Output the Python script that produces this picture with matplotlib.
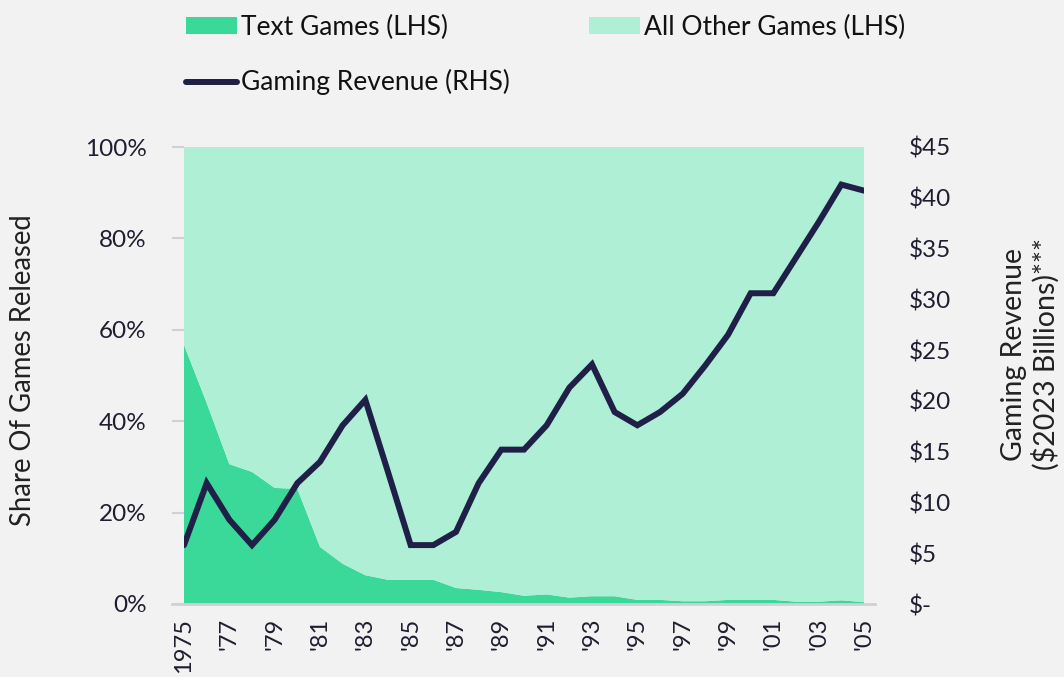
import matplotlib
matplotlib.use("Agg")
import matplotlib.pyplot as plt
from matplotlib.patches import Patch
from matplotlib.lines import Line2D

years = list(range(1975, 2006))
text_share = [56.7, 44.0, 30.6, 28.9, 25.4, 25.2, 12.5, 8.8, 6.3, 5.3, 5.3, 5.3,
              3.5, 3.1, 2.6, 1.8, 2.1, 1.4, 1.7, 1.7, 0.9, 0.9, 0.6, 0.6, 0.9,
              0.9, 0.9, 0.5, 0.5, 0.8, 0.4]
other_share = [100 - v for v in text_share]
revenue = [5.8, 11.9, 8.3, 5.8, 8.3, 11.9, 14.0, 17.6, 20.1, 13.0, 5.8, 5.8,
           7.1, 11.9, 15.2, 15.2, 17.6, 21.3, 23.6, 18.9, 17.6, 18.9, 20.7,
           23.5, 26.5, 30.6, 30.6, 34.1, 37.6, 41.3, 40.7]
xtick_years = list(range(1975, 2006, 2))
xtick_labels = ["1975"] + ["'" + str(y)[2:] for y in xtick_years[1:]]
left_ticks = [0, 20, 40, 60, 80, 100]
right_ticks = [0, 5, 10, 15, 20, 25, 30, 35, 40, 45]
right_labels = ["$-"] + ["$" + str(v) for v in right_ticks[1:]]

BG = "#F2F2F2"
C_TEXT = "#3AD999"
C_OTHER = "#AEEFD5"
C_LINE = "#1F1F47"
TICKC = "#D0D0D6"
LBLC = "#1E1E30"
FS = 17.5

plt.rcParams["font.family"] = ["Lato", "DejaVu Sans"]

W, H = 1064, 677
fig = plt.figure(figsize=(W/100, H/100), dpi=100, facecolor=BG)
ax = fig.add_axes([184/W, 1-604/H, 680/W, 457/H])
ax.set_facecolor(BG)
ax.stackplot(years, text_share, other_share, colors=[C_TEXT, C_OTHER], linewidth=0)
ax.set_xlim(1975, 2005)
ax.set_ylim(0, 100)
ax.set_yticks(left_ticks)
ax.set_yticklabels([f"{v}%" for v in left_ticks])
ax.set_xticks(xtick_years)
ax.set_xticklabels(xtick_labels, rotation=90)
ax.tick_params(axis="x", length=0, pad=10, labelsize=17, labelcolor=LBLC)
ax.tick_params(axis="y", length=9, width=1.5, color=TICKC, pad=18, labelsize=FS,
               labelcolor=LBLC, right=True)
for s in ["top", "right", "left"]:
    ax.spines[s].set_visible(False)
ax.spines["bottom"].set_color(TICKC)
ax.spines["bottom"].set_linewidth(2)
ax.spines["bottom"].set_bounds(1975 - 12/680*30, 2005 + 11/680*30)

ax2 = ax.twinx()
ax2.plot(years, revenue, color=C_LINE, lw=4.3, solid_joinstyle="miter", solid_capstyle="round")
ax2.set_ylim(0, 45)
ax2.set_yticks(right_ticks)
ax2.set_yticklabels(right_labels)
ax2.tick_params(axis="y", length=0, pad=32, labelsize=FS, labelcolor=LBLC)
for s in ax2.spines.values():
    s.set_visible(False)

fig.text(23/W, 1-370/H, "Share Of Games Released", rotation=90, ha="center", va="center",
         fontsize=19.8, color="#222222")
fig.text(1030/W, 1-354/H, "Gaming Revenue\n($2023 Billions)***", rotation=90, ha="center",
         va="center", fontsize=20.5, color="#222222", linespacing=1.2, multialignment="center")

handles = [Patch(facecolor=C_TEXT, label="Text Games (LHS)"),
           Line2D([0], [0], color=C_LINE, lw=4.3, solid_capstyle="round", label="Gaming Revenue (RHS)"),
           Patch(facecolor=C_OTHER, label="All Other Games (LHS)")]
fig.legend(handles=handles, loc="upper left", bbox_to_anchor=(186/W, 1-15/H), ncol=2,
           frameon=False, fontsize=19, handlelength=1.93, handleheight=0.6,
           handletextpad=0.15, columnspacing=3.0, labelspacing=1.11,
           borderpad=0, borderaxespad=0, labelcolor="#111111")

fig.savefig("out.png", dpi=100, facecolor=BG)
